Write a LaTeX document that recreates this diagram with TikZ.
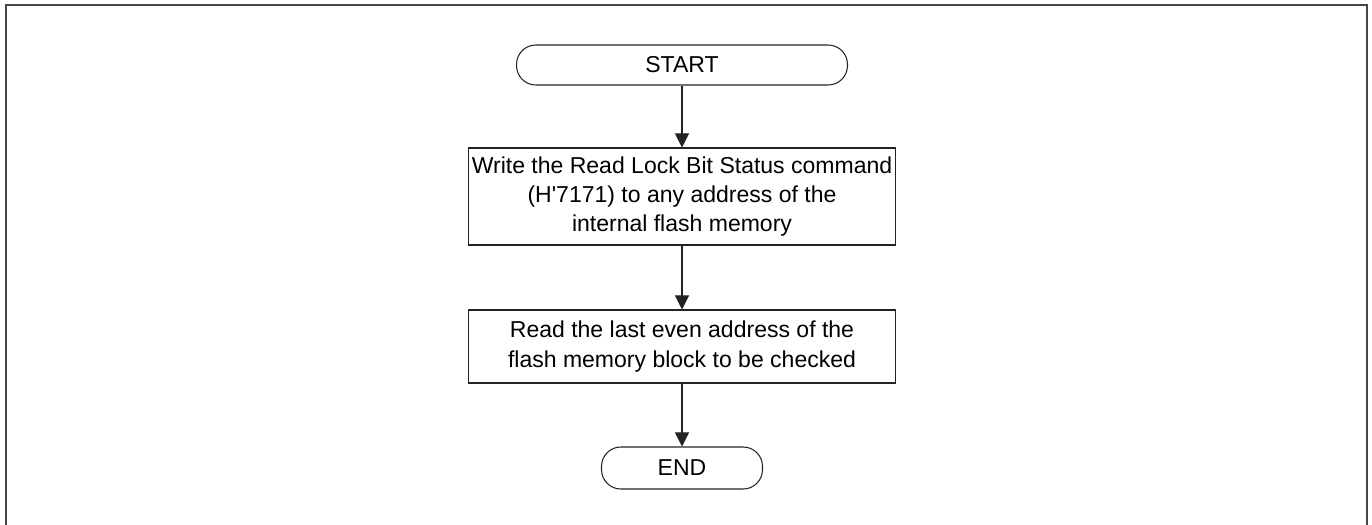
\documentclass[tikz,border=0pt]{standalone}
\usepackage{fontspec}
\setmainfont{Liberation Sans}
\usepackage{xcolor}
\usepackage{tikz}
\usetikzlibrary{arrows.meta, positioning}

\begin{document}
\begin{tikzpicture}[x=0.02cm,y=-0.02cm,>={Triangle[length=8pt,width=8pt]},
  termbox/.style={draw=fr,line width=0.6pt,rounded corners=11pt,minimum height=0.8cm,
    inner sep=0pt,font=\fontsize{13.1}{16.6}\selectfont},
  procbox/.style={draw=fr,line width=0.6pt,minimum width=8.56cm,inner sep=0pt,align=center,
    font=\fontsize{13.1}{16.6}\selectfont},
  flow/.style={->,fr,line width=0.6pt}]
\definecolor{fr}{RGB}{35,35,35}
\definecolor{gr}{RGB}{70,70,70}
\useasboundingbox (0,0) rectangle (1372,524);
\draw[gr,line width=0.85pt] (6,530) -- (6,5) -- (1367,5) -- (1367,530);
\node[termbox,minimum width=6.62cm] (start) at (682,65) {START};
\node[procbox,minimum height=1.94cm] (write) at (682,196.5) {Write the Read Lock Bit Status command\\(H{\XeTeXglyph\XeTeXcharglyph"0027}7171) to any address of the\\internal flash memory};
\node[procbox,minimum height=1.46cm] (read) at (682,346.5) {Read the last even address of the\\flash memory block to be checked};
\node[termbox,minimum width=3.22cm,minimum height=0.84cm] (end) at (682,468) {END};
\draw[flow] (start) -- (write);
\draw[flow] (write) -- (read);
\draw[flow] (read) -- (end);
\end{tikzpicture}
\end{document}
